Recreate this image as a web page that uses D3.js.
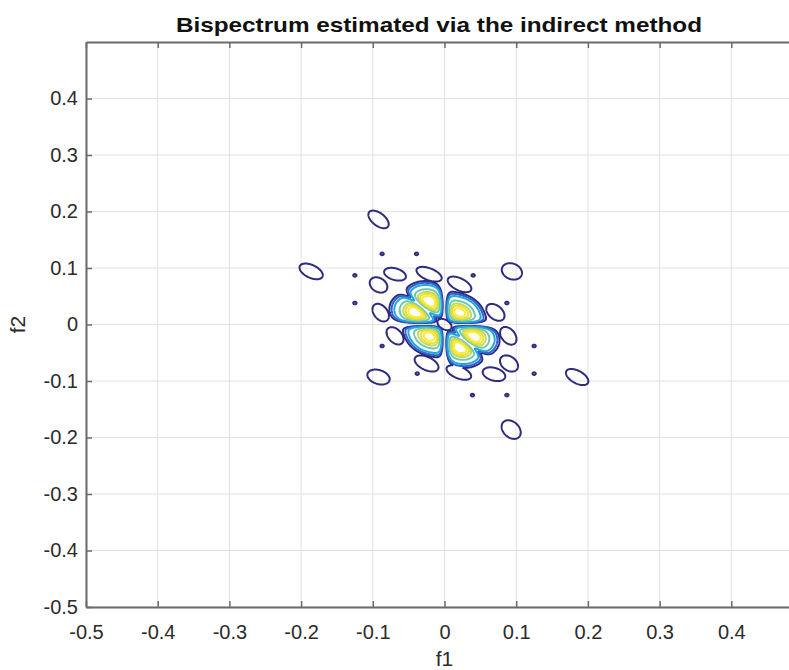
<!DOCTYPE html>
<html>
<head>
<meta charset="utf-8">
<script src="https://cdn.jsdelivr.net/npm/d3@7"></script>
<style>
  body { margin: 0; background: #fff; }
  svg { display: block; font-family: "Liberation Sans", Arial, Helvetica, sans-serif; }
</style>
</head>
<body>
<svg id="chart" width="789" height="670"></svg>
<script>
// ---- Tick values -------------------------------------------------------
const xTicks = [-0.5, -0.4, -0.3, -0.2, -0.1, 0, 0.1, 0.2, 0.3, 0.4];
const yTicks = [-0.5, -0.4, -0.3, -0.2, -0.1, 0, 0.1, 0.2, 0.3, 0.4];

// ---- Main bispectral peaks (six-fold symmetric set) --------------------
const peakF1   = [0.021, -0.042, -0.021, -0.021, 0.042, 0.021];
const peakF2   = [0.021, 0.021, 0.042, -0.021, -0.021, -0.042];
const peakAmp  = [1, 1, 1, 1, 1, 1];
const peakSMaj = [0.0165, 0.0165, 0.0165, 0.0165, 0.0165, 0.0165];
const peakSMin = [0.0135, 0.0135, 0.0135, 0.0135, 0.0135, 0.0135];
const peakAng  = [-45, -45, -45, -45, -45, -45];

// ---- Weaker isolated lobes --------------------------------------------
const lobeF1   = [-0.092, -0.186, 0.094, -0.092, 0.185, 0.093, -0.069, -0.092, -0.0215, 0.021, -0.089, -0.069, 0.071, 0.089, -0.025, 0.020, 0.069, 0.090, 0];
const lobeF2   = [0.186, 0.094, 0.094, -0.093, -0.093, -0.186, 0.089, 0.070, 0.089, 0.071, 0.021, -0.020, 0.0215, -0.020, -0.069, -0.085, -0.088, -0.069, 0];
const lobeAmp  = [0.11, 0.11, 0.11, 0.11, 0.11, 0.11, 0.11, 0.11, 0.11, 0.11, 0.11, 0.11, 0.11, 0.11, 0.11, 0.11, 0.11, 0.11, 0.11];
const lobeSMaj = [0.0195, 0.0195, 0.0165, 0.0175, 0.0195, 0.0185, 0.0170, 0.0155, 0.0205, 0.0200, 0.0175, 0.0175, 0.0175, 0.0175, 0.0200, 0.0200, 0.0175, 0.0165, 0.0125];
const lobeSMin = [0.0105, 0.0112, 0.0135, 0.0125, 0.0108, 0.0125, 0.0105, 0.0115, 0.0105, 0.0105, 0.0105, 0.0105, 0.0110, 0.0105, 0.0115, 0.0105, 0.0115, 0.0115, 0.0080];
const lobeAng  = [-50, -36, -50, -30, -40, -62, -25, -55, -30, -36, -65, -61, -56, -65, -36, -30, -25, -56, -46];

// ---- Tiny residual peaks ------------------------------------------------
const dotF1 = [-0.087, -0.039, -0.125, 0.040, -0.125, 0.087, -0.087, 0.125, -0.038, 0.125, 0.039, 0.087];
const dotF2 = [0.125, 0.125, 0.087, 0.087, 0.038, 0.038, -0.038, -0.038, -0.087, -0.087, -0.125, -0.125];
const dotAmp = 0.095, dotSigma = 0.003;

// ---- Contour levels and colours ---------------------------------------
const levels = [0.07, 0.11, 0.18, 0.4, 0.6, 0.75, 0.9];
const levelColors = ["#2f2c7d", "#2c62d6", "#22a8d8", "#6cc8b2", "#c2d860", "#eee02c", "#f6ee36"];

// ---- Zero-line widths of the estimate (f1 = 0, f2 = 0, f1 + f2 = 0) ---
const axisNullWidth = 0.008, diagNullWidth = 0.009, diagNullDepth = 0.75;

const svg = d3.select("#chart");
const x = d3.scaleLinear().domain([-0.5, 0.5]).range([86, 803]);
const y = d3.scaleLinear().domain([-0.5, 0.5]).range([607, 42]);

// ---- Sample the bispectrum magnitude on a grid ------------------------
const g0 = -0.24, step = 0.001, n = 481;
const values = new Float64Array(n * n);

function kernel(du, dv, sa, sb, angDeg) {
  const t = angDeg * Math.PI / 180, c = Math.cos(t), s = Math.sin(t);
  const p = du * c + dv * s, q = -du * s + dv * c;
  return Math.exp(-0.5 * (p * p / (sa * sa) + q * q / (sb * sb)));
}

for (let j = 0; j < n; j++) {
  const v = g0 + j * step;
  if (Math.abs(v) > 0.13) continue;
  for (let i = 0; i < n; i++) {
    const u = g0 + i * step;
    if (Math.abs(u) > 0.13) continue;
    let sum = 0;
    for (let k = 0; k < peakF1.length; k++) {
      sum += peakAmp[k] * kernel(u - peakF1[k], v - peakF2[k], peakSMaj[k], peakSMin[k], peakAng[k]);
    }
    const fu = 1 - Math.exp(-(u * u) / (axisNullWidth * axisNullWidth));
    const fv = 1 - Math.exp(-(v * v) / (axisNullWidth * axisNullWidth));
    const fd = 1 - diagNullDepth * Math.exp(-((u + v) * (u + v)) / (diagNullWidth * diagNullWidth));
    values[j * n + i] = sum * fu * fv * fd;
  }
}

function addLobe(cf1, cf2, amp, sa, sb, ang) {
  const r = 4 * Math.max(sa, sb);
  const i0 = Math.max(0, Math.floor((cf1 - r - g0) / step)), i1 = Math.min(n - 1, Math.ceil((cf1 + r - g0) / step));
  const j0 = Math.max(0, Math.floor((cf2 - r - g0) / step)), j1 = Math.min(n - 1, Math.ceil((cf2 + r - g0) / step));
  for (let j = j0; j <= j1; j++) {
    const v = g0 + j * step;
    for (let i = i0; i <= i1; i++) {
      const u = g0 + i * step;
      const val = amp * kernel(u - cf1, v - cf2, sa, sb, ang);
      const idx = j * n + i;
      if (val > values[idx]) values[idx] = val;
    }
  }
}
lobeF1.forEach((f1, k) => addLobe(f1, lobeF2[k], lobeAmp[k], lobeSMaj[k], lobeSMin[k], lobeAng[k]));
dotF1.forEach((f1, k) => addLobe(f1, dotF2[k], dotAmp, dotSigma, dotSigma, 0));

// ---- Grid lines --------------------------------------------------------
const grid = svg.append("g").attr("stroke", "#e2e2e2").attr("stroke-width", 1);
grid.selectAll("line.v").data(xTicks).join("line").attr("class", "v")
  .attr("x1", d => x(d)).attr("x2", d => x(d)).attr("y1", y(0.5)).attr("y2", y(-0.5));
grid.selectAll("line.h").data(yTicks).join("line").attr("class", "h")
  .attr("x1", x(-0.5)).attr("x2", x(0.5)).attr("y1", d => y(d)).attr("y2", d => y(d));

// ---- Contour lines -----------------------------------------------------
const contours = d3.contours().size([n, n]).thresholds(levels)(values);
const proj = d3.geoTransform({
  point(px, py) { this.stream.point(x(g0 + (px - 0.5) * step), y(g0 + (py - 0.5) * step)); }
});
const path = d3.geoPath(proj);
svg.append("g").selectAll("path").data(contours).join("path")
  .attr("d", path)
  .attr("fill", "none")
  .attr("stroke", (d, i) => levelColors[i])
  .attr("stroke-width", 2)
  .attr("stroke-linejoin", "round");

// ---- Axes (inward ticks, box) -----------------------------------------
const axisColor = "#6b6b6b";
const fmt = d => String(+(+d).toFixed(1));   // plain hyphen-minus, e.g. "-0.5"
const gx = svg.append("g").attr("transform", `translate(0,${y(-0.5)})`)
  .call(d3.axisBottom(x).tickValues(xTicks).tickSizeInner(-6).tickSizeOuter(0).tickPadding(18).tickFormat(fmt));
const gy = svg.append("g").attr("transform", `translate(${x(-0.5)},0)`)
  .call(d3.axisLeft(y).tickValues(yTicks).tickSizeInner(-6).tickSizeOuter(0).tickPadding(8).tickFormat(fmt));
const gt = svg.append("g").attr("transform", `translate(0,${y(0.5)})`)
  .call(d3.axisTop(x).tickValues(xTicks).tickSizeInner(-6).tickSizeOuter(0).tickFormat(""));
const gr = svg.append("g").attr("transform", `translate(${x(0.5)},0)`)
  .call(d3.axisRight(y).tickValues(yTicks).tickSizeInner(-6).tickSizeOuter(0).tickFormat(""));

[gx, gy, gt, gr].forEach(g => {
  g.select(".domain").attr("stroke", axisColor).attr("stroke-width", 2);
  g.selectAll(".tick line").attr("stroke", axisColor).attr("stroke-width", 1.5);
  g.selectAll(".tick text").attr("fill", "#2b2b2b").attr("font-size", 20)
    .attr("font-family", "'Liberation Sans', Arial, sans-serif");
});

// ---- Titles --------------------------------------------------------------
svg.append("text")
  .attr("x", 439).attr("y", 32)
  .attr("text-anchor", "middle")
  .attr("font-size", 21).attr("font-weight", "bold").attr("fill", "#111")
  .attr("textLength", 526).attr("lengthAdjust", "spacingAndGlyphs")
  .text("Bispectrum estimated via the indirect method");

svg.append("text")
  .attr("x", x(0)).attr("y", 666)
  .attr("text-anchor", "middle")
  .attr("font-size", 21).attr("fill", "#2b2b2b")
  .text("f1");

svg.append("text")
  .attr("transform", `translate(25,${y(0)}) rotate(-90)`)
  .attr("text-anchor", "middle")
  .attr("font-size", 21).attr("fill", "#2b2b2b")
  .text("f2");
</script>
</body>
</html>
